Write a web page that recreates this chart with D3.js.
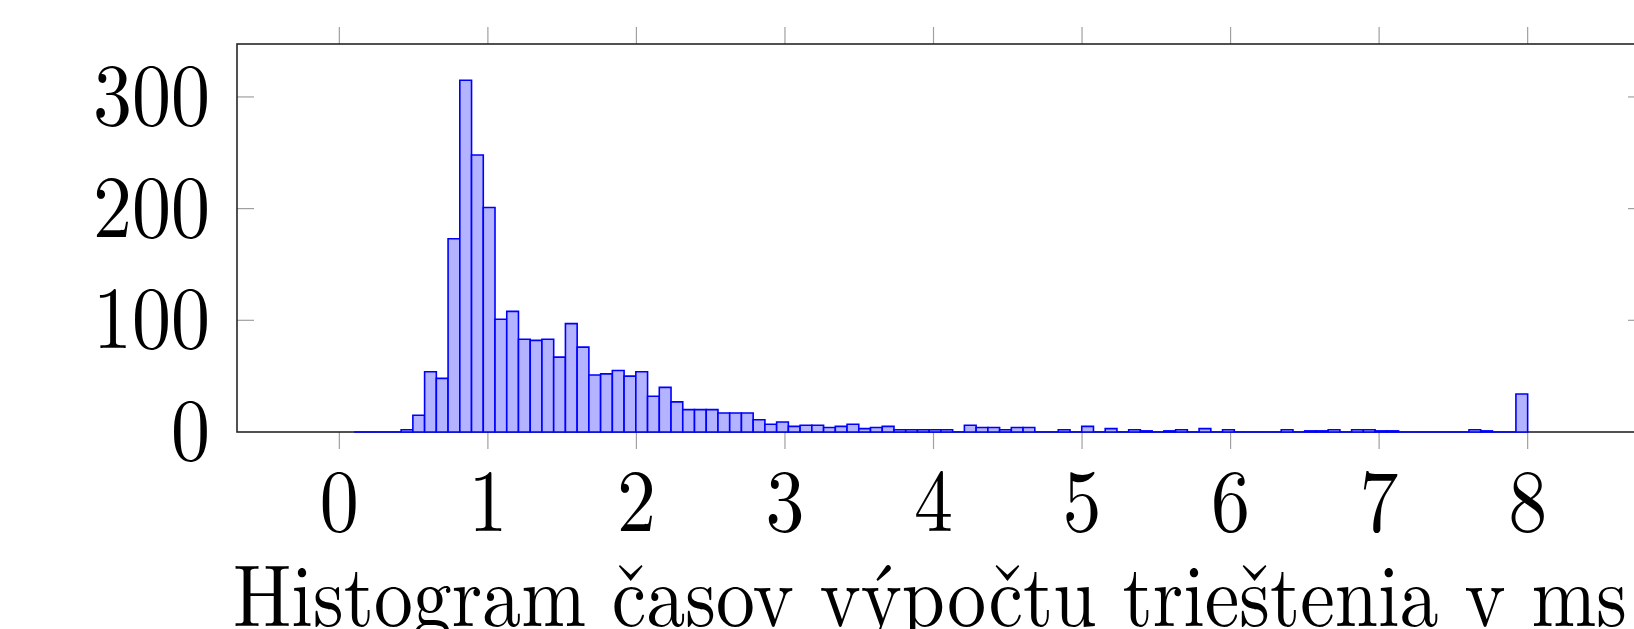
<!DOCTYPE html>
<html>
<head>
<meta charset="utf-8">
<script src="https://cdn.jsdelivr.net/npm/d3@7"></script>
<style>
  html, body { margin: 0; padding: 0; background: #fff; }
  svg { display: block; }
  text { font-family: "Latin Modern Roman", "CMU Serif", "Liberation Serif", serif; fill: #000; }
</style>
</head>
<body>
<svg class="vis" width="1634" height="629"></svg>
<script>
// histogram: 100 bins starting at 0.1 ms, width 0.079 ms
const bin_start = 0.1;
const bin_width = 0.079;
const counts = [
  0, 0, 0, 0, 2, 15, 54, 48, 173, 315,
  248, 201, 101, 108, 83, 82, 83, 67, 97, 76,
  51, 52, 55, 50, 54, 32, 40, 27, 20, 20,
  20, 17, 17, 17, 11, 7, 9, 5, 6, 6,
  4, 5, 7, 3, 4, 5, 2, 2, 2, 2,
  2, 0, 6, 4, 4, 2, 4, 4, 0, 0,
  2, 0, 5, 0, 3, 0, 2, 1, 0, 1,
  2, 0, 3, 0, 2, 0, 0, 0, 0, 2,
  0, 1, 1, 2, 0, 2, 2, 1, 1, 0,
  0, 0, 0, 0, 0, 2, 1, 0, 0, 34
];
const x_ticks = [0, 1, 2, 3, 4, 5, 6, 7, 8];
const y_ticks = [0, 100, 200, 300];
const x_domain = [-0.689, 8.79];
const y_domain = [0, 347.4];
const title = "Histogram časov výpočtu trieštenia v ms";

const vis = {
  dims: { left: 237, right: 1645, top: 44, bottom: 432, tick: 17, stretch: 1.13, font: 78 },
  sels: { svg: null },
  scales: { x: d3.scaleLinear(), y: d3.scaleLinear() },

  init: function() {
    vis.sels.svg = d3.select("svg.vis");
    vis.scales.x.domain(x_domain).range([vis.dims.left, vis.dims.right]);
    vis.scales.y.domain(y_domain).range([vis.dims.bottom, vis.dims.top]);
    vis.draw.frame();
    vis.draw.bars();
    vis.draw.labels();
  },

  draw: {
    frame: function() {
      const svg = vis.sels.svg, x = vis.scales.x, y = vis.scales.y, d = vis.dims;
      const g = svg.append("g");

      // x ticks, outside on bottom and top
      g.selectAll("line.xb").data(x_ticks).join("line")
        .attr("x1", v => x(v)).attr("x2", v => x(v))
        .attr("y1", d.bottom).attr("y2", d.bottom + d.tick)
        .attr("stroke", "#a0a0a0").attr("stroke-width", 1.2);
      g.selectAll("line.xt").data(x_ticks).join("line")
        .attr("x1", v => x(v)).attr("x2", v => x(v))
        .attr("y1", d.top).attr("y2", d.top - d.tick)
        .attr("stroke", "#a0a0a0").attr("stroke-width", 1.2);

      // y ticks, inside on left and right
      g.selectAll("line.yl").data(y_ticks.slice(1)).join("line")
        .attr("y1", v => y(v)).attr("y2", v => y(v))
        .attr("x1", d.left).attr("x2", d.left + d.tick)
        .attr("stroke", "#a0a0a0").attr("stroke-width", 1.2);
      g.selectAll("line.yr").data(y_ticks.slice(1)).join("line")
        .attr("y1", v => y(v)).attr("y2", v => y(v))
        .attr("x1", d.right).attr("x2", d.right - d.tick)
        .attr("stroke", "#a0a0a0").attr("stroke-width", 1.2);

      g.append("rect")
        .attr("x", d.left).attr("y", d.top)
        .attr("width", d.right - d.left).attr("height", d.bottom - d.top)
        .attr("fill", "none").attr("stroke", "#262626").attr("stroke-width", 1.6);
    },

    bars: function() {
      const x = vis.scales.x, y = vis.scales.y;
      vis.sels.svg.append("g")
        .selectAll("path").data(counts).join("path")
        .attr("d", (c, i) => {
          const x0 = x(bin_start + i * bin_width), x1 = x(bin_start + (i + 1) * bin_width);
          const p = d3.path();
          p.moveTo(x0, y(0)); p.lineTo(x0, y(c)); p.lineTo(x1, y(c)); p.lineTo(x1, y(0)); p.closePath();
          return p.toString();
        })
        .attr("fill", "#b3b3ff")
        .attr("stroke", "#0000ff")
        .attr("stroke-width", 1.6)
        .attr("stroke-linejoin", "miter");
    },

    labels: function() {
      const svg = vis.sels.svg, x = vis.scales.x, y = vis.scales.y, d = vis.dims;

      svg.append("g").selectAll("text").data(x_ticks).join("text")
        .attr("transform", v => `translate(${x(v)},531) scale(1,${d.stretch})`)
        .attr("text-anchor", "middle")
        .attr("font-size", d.font)
        .text(v => v);

      svg.append("g").selectAll("text").data(y_ticks).join("text")
        .attr("transform", v => `translate(210,${y(v) + 28}) scale(1,${d.stretch})`)
        .attr("text-anchor", "end")
        .attr("font-size", d.font)
        .text(v => v);

      svg.append("text")
        .attr("transform", `translate(233,626) scale(1,${d.stretch})`)
        .attr("font-size", d.font)
        .attr("textLength", 1394)
        .attr("lengthAdjust", "spacingAndGlyphs")
        .text(title);
    }
  }
};

vis.init();
</script>
</body>
</html>
